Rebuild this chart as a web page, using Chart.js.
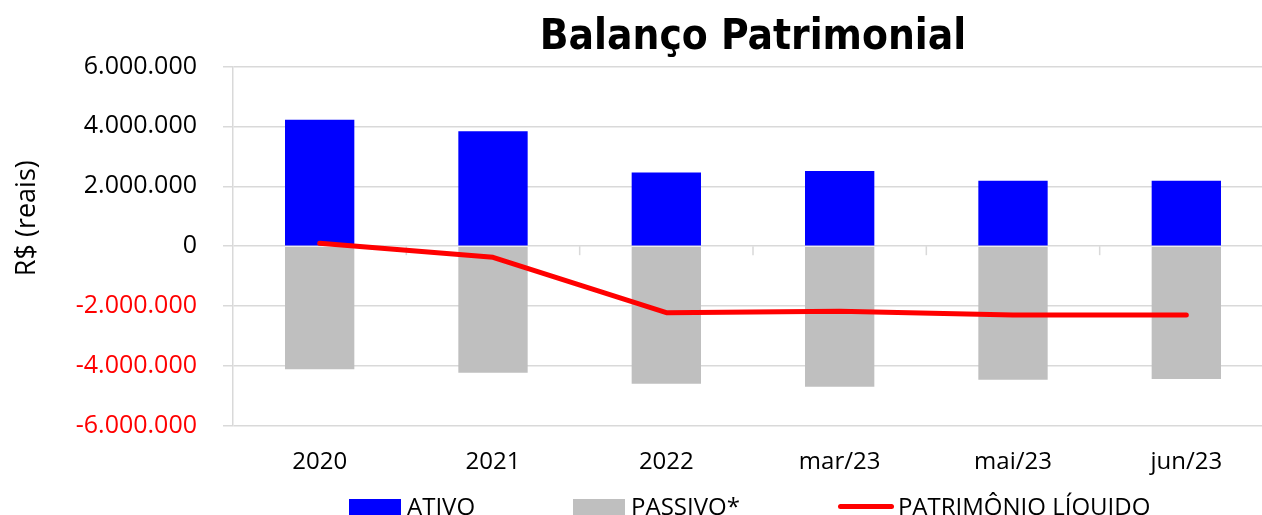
<!DOCTYPE html>
<html><head><meta charset="utf-8">
<script src="https://cdn.jsdelivr.net/npm/chart.js@4.4.1/dist/chart.umd.min.js"></script>
<style>
html,body{margin:0;padding:0;overflow:hidden;background:#fff;width:1262px;height:515px;}
#wrap{position:relative;width:1280px;height:530px;}
#c{position:absolute;left:0;top:0;}
#legend{position:absolute;left:349px;top:494px;display:flex;gap:98px;font:24px/24px 'Open Sans',sans-serif;color:#000;white-space:nowrap;}
.item{display:flex;align-items:flex-start;}
.sw{display:inline-block;margin-right:6px;}
</style></head><body>
<div id="wrap"><canvas id="c" width="1280" height="492"></canvas><div id="legend"></div></div>
<script>
const TITLE = 'Balanço Patrimonial';
const Y_TITLE = 'R$ (reais)';
const categories = ['2020', '2021', '2022', 'mar/23', 'mai/23', 'jun/23'];
const seriesNames = ['ATIVO', 'PASSIVO*', 'PATRIMÔNIO LÍQUIDO'];
const ativo = [4220000, 3840000, 2460000, 2510000, 2180000, 2180000];
const passivo = [-4110000, -4220000, -4590000, -4690000, -4460000, -4430000];
const patrimonio = [100000, -370000, -2220000, -2170000, -2300000, -2300000];
const yTicks = [-6000000, -4000000, -2000000, 0, 2000000, 4000000, 6000000];

function fmt(v) {
  const s = Math.abs(v).toString().replace(/\B(?=(\d{3})+(?!\d))/g, '.');
  return (v < 0 ? '-' : '') + s;
}

const yTitlePlugin = {
  id: 'yTitle',
  afterDraw(chart) {
    const { ctx, chartArea } = chart;
    ctx.save();
    ctx.translate(27, (chartArea.top + chartArea.bottom) / 2 - 28);
    ctx.rotate(-Math.PI / 2);
    ctx.font = "27px 'Open Sans'";
    ctx.fillStyle = '#000';
    ctx.textAlign = 'center';
    ctx.textBaseline = 'middle';
    ctx.fillText(Y_TITLE, 0, 0);
    ctx.restore();
  }
};

const zeroTicksPlugin = {
  id: 'zeroTicks',
  beforeDatasetsDraw(chart) {
    const { ctx } = chart;
    const x = chart.scales.x, y = chart.scales.y;
    const y0 = y.getPixelForValue(0);
    ctx.save();
    ctx.strokeStyle = '#d9d9d9';
    ctx.lineWidth = 1.5;
    for (let i = 0; i < categories.length - 1; i++) {
      const px = (x.getPixelForValue(i) + x.getPixelForValue(i + 1)) / 2;
      ctx.beginPath();
      ctx.moveTo(px, y0);
      ctx.lineTo(px, y0 + 9);
      ctx.stroke();
    }
    ctx.restore();
  }
};

Chart.defaults.font.family = "'Open Sans', sans-serif";
Chart.defaults.color = '#000';

const chart = new Chart(document.getElementById('c'), {
  data: {
    labels: categories,
    datasets: [
      { type: 'bar', label: seriesNames[0], data: ativo, backgroundColor: '#0000ff', order: 1, stack: 'bp', barPercentage: 1, categoryPercentage: 0.4 },
      { type: 'bar', label: seriesNames[1], data: passivo, backgroundColor: '#bfbfbf', order: 1, stack: 'bp', barPercentage: 1, categoryPercentage: 0.4 },
      { type: 'line', label: seriesNames[2], data: patrimonio, borderColor: '#ff0000', backgroundColor: '#ff0000', borderWidth: 5, pointRadius: 0, tension: 0, borderCapStyle: 'round', borderJoinStyle: 'round', order: 0, stack: 'pl' }
    ]
  },
  options: {
    responsive: false,
    animation: false,
    devicePixelRatio: 1,
    layout: { padding: { left: 0, right: 7, top: 0, bottom: 0 } },
    plugins: {
      legend: { display: false },
      tooltip: { enabled: false },
      title: {
        display: true, text: TITLE, fullSize: false,
        font: { family: "'DejaVu Sans Condensed', 'DejaVu Sans', sans-serif", size: 42, weight: 'bold' },
        color: '#000', padding: { top: 13, bottom: 3 }
      }
    },
    scales: {
      x: {
        stacked: true,
        grid: { display: false, drawTicks: false },
        border: { display: false },
        ticks: { font: { size: 24 }, padding: 22, color: '#000' },
        afterFit(s) { s.height = 66; }
      },
      y: {
        stacked: true,
        min: yTicks[0], max: yTicks[yTicks.length - 1],
        afterBuildTicks(s) { s.ticks = yTicks.map(v => ({ value: v })); },
        grid: { color: '#d9d9d9', lineWidth: 1.5, tickLength: 10, drawTicks: true },
        border: { display: true, color: '#d9d9d9', width: 1.5 },
        ticks: {
          font: { size: 25 }, padding: 26,
          color: c => (c.tick && c.tick.value < 0 ? '#ff0000' : '#000000'),
          callback: v => fmt(v)
        },
        afterFit(s) { s.width = 233; }
      }
    }
  },
  plugins: [yTitlePlugin, zeroTicksPlugin]
});

// HTML legend built from the chart's datasets
const legendEl = document.getElementById('legend');
chart.data.datasets.forEach(ds => {
  const item = document.createElement('div');
  item.className = 'item';
  const sw = document.createElement('span');
  sw.className = 'sw';
  if (ds.type === 'line') {
    sw.style.cssText = 'width:56px;height:5px;margin-top:10px;border-radius:3px;margin-right:4px;background:' + ds.borderColor;
  } else {
    sw.style.cssText = 'width:52px;height:16px;margin-top:5px;background:' + ds.backgroundColor;
  }
  const tx = document.createElement('span');
  tx.textContent = ds.label;
  item.appendChild(sw);
  item.appendChild(tx);
  legendEl.appendChild(item);
});
</script>
</body></html>
